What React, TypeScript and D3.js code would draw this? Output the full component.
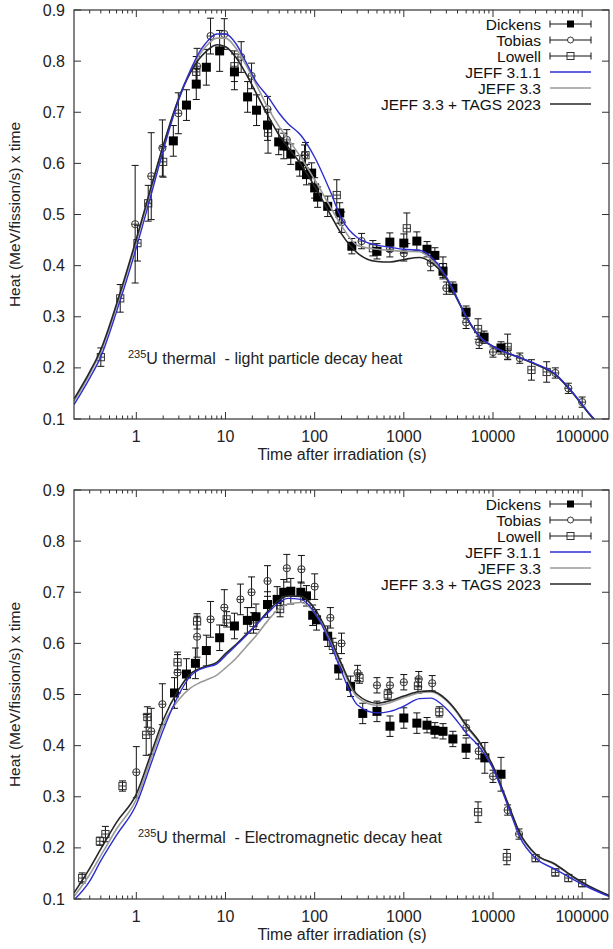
import React from 'react';
import * as d3 from 'd3';

// ---------- Model curves (common time grid, s) ----------
const curveT = [0.2, 0.3, 0.4, 0.6, 1, 1.5, 2, 3, 4, 5, 6, 8, 10, 13, 17, 22, 30, 40, 50, 70, 100, 150, 200, 300, 500, 700, 1000, 1500, 2000, 3000, 4000, 5000, 7000, 10000, 15000, 20000, 30000, 50000, 80000, 120000, 200000];

// Light particle decay heat
const lpJeff311 = [0.128, 0.18, 0.222, 0.31, 0.435, 0.545, 0.625, 0.725, 0.78, 0.815, 0.835, 0.853, 0.853, 0.835, 0.798, 0.76, 0.73, 0.698, 0.678, 0.655, 0.612, 0.545, 0.492, 0.455, 0.44, 0.436, 0.432, 0.43, 0.418, 0.378, 0.335, 0.3, 0.262, 0.242, 0.228, 0.22, 0.208, 0.188, 0.15, 0.111, 0.07];
const lpJeff33 = [0.135, 0.188, 0.232, 0.32, 0.447, 0.556, 0.632, 0.728, 0.78, 0.81, 0.828, 0.845, 0.845, 0.826, 0.792, 0.755, 0.708, 0.672, 0.648, 0.612, 0.568, 0.515, 0.478, 0.44, 0.432, 0.43, 0.428, 0.427, 0.413, 0.376, 0.334, 0.3, 0.262, 0.242, 0.228, 0.22, 0.207, 0.187, 0.149, 0.11, 0.07];
const lpTags = [0.139, 0.192, 0.236, 0.325, 0.452, 0.56, 0.635, 0.728, 0.776, 0.803, 0.818, 0.832, 0.828, 0.808, 0.775, 0.738, 0.693, 0.655, 0.632, 0.598, 0.555, 0.5, 0.462, 0.425, 0.408, 0.407, 0.412, 0.416, 0.407, 0.375, 0.333, 0.3, 0.262, 0.242, 0.228, 0.22, 0.207, 0.187, 0.149, 0.11, 0.07];

// Electromagnetic decay heat
const emJeff311 = [0.098, 0.135, 0.175, 0.225, 0.285, 0.37, 0.43, 0.5, 0.535, 0.548, 0.553, 0.56, 0.576, 0.595, 0.615, 0.636, 0.66, 0.68, 0.688, 0.686, 0.66, 0.6, 0.545, 0.48, 0.464, 0.467, 0.477, 0.492, 0.493, 0.472, 0.447, 0.425, 0.398, 0.355, 0.278, 0.221, 0.18, 0.158, 0.138, 0.122, 0.105];
const emJeff33 = [0.105, 0.148, 0.185, 0.237, 0.295, 0.38, 0.44, 0.49, 0.512, 0.522, 0.528, 0.538, 0.552, 0.57, 0.593, 0.615, 0.645, 0.668, 0.677, 0.68, 0.66, 0.605, 0.555, 0.495, 0.479, 0.484, 0.494, 0.503, 0.505, 0.488, 0.463, 0.438, 0.406, 0.358, 0.282, 0.228, 0.187, 0.167, 0.142, 0.124, 0.106];
const emTags = [0.112, 0.16, 0.198, 0.25, 0.305, 0.39, 0.45, 0.51, 0.54, 0.55, 0.555, 0.563, 0.58, 0.597, 0.617, 0.636, 0.663, 0.685, 0.693, 0.692, 0.668, 0.61, 0.56, 0.5, 0.483, 0.488, 0.497, 0.506, 0.507, 0.49, 0.465, 0.44, 0.408, 0.36, 0.283, 0.229, 0.188, 0.168, 0.143, 0.125, 0.107];

// ---------- Measurements: light particle ----------
const lpDickensT = [2.6, 3.65, 4.7, 6.1, 8.6, 12.6, 17.7, 22.3, 29.6, 39.5, 45, 54, 68, 81, 92.5, 100, 108, 140, 191, 261, 500, 697, 1000, 1400, 1820, 2230, 2750, 3550, 4990, 7940, 12300];
const lpDickensV = [0.644, 0.714, 0.755, 0.788, 0.82, 0.779, 0.73, 0.704, 0.675, 0.642, 0.634, 0.618, 0.595, 0.578, 0.581, 0.552, 0.534, 0.516, 0.503, 0.438, 0.428, 0.446, 0.444, 0.448, 0.432, 0.42, 0.389, 0.356, 0.309, 0.26, 0.239];
const lpDickensE = [0.03, 0.03, 0.03, 0.035, 0.04, 0.035, 0.03, 0.03, 0.03, 0.025, 0.025, 0.02, 0.02, 0.02, 0.02, 0.02, 0.02, 0.02, 0.02, 0.015, 0.015, 0.018, 0.018, 0.018, 0.015, 0.015, 0.015, 0.012, 0.012, 0.012, 0.012];

const lpTobiasT = [0.97, 1.47, 1.96, 2.96, 4.8, 6.8, 9.7, 15, 19.6, 29.6, 48.7, 77, 201, 336, 697, 1000, 2000, 3000, 5000, 7000, 10000, 14600, 20000, 50000, 70000, 100000];
const lpTobiasV = [0.481, 0.575, 0.63, 0.698, 0.79, 0.849, 0.853, 0.808, 0.771, 0.706, 0.646, 0.616, 0.485, 0.448, 0.432, 0.424, 0.405, 0.356, 0.289, 0.25, 0.231, 0.227, 0.219, 0.19, 0.16, 0.133];
const lpTobiasE = [0.115, 0.085, 0.055, 0.04, 0.035, 0.035, 0.03, 0.03, 0.025, 0.025, 0.02, 0.02, 0.02, 0.015, 0.015, 0.015, 0.015, 0.012, 0.012, 0.012, 0.01, 0.01, 0.01, 0.01, 0.01, 0.01];

const lpLowellT = [0.4, 0.66, 1.03, 1.36, 2.0, 4.7, 12.6, 30, 79, 177, 450, 1080, 2750, 6800, 14600, 27000, 40000];
const lpLowellV = [0.221, 0.336, 0.444, 0.522, 0.603, 0.779, 0.79, 0.66, 0.616, 0.538, 0.434, 0.473, 0.397, 0.276, 0.241, 0.196, 0.192];
const lpLowellE = [0.018, 0.027, 0.035, 0.035, 0.03, 0.03, 0.03, 0.04, 0.025, 0.03, 0.015, 0.03, 0.02, 0.02, 0.025, 0.02, 0.02];

// ---------- Measurements: electromagnetic ----------
const emDickensT = [2.68, 3.65, 4.6, 6.1, 8.6, 12.6, 17.6, 22, 29.6, 38, 45, 54, 70, 81, 95, 105, 140, 186, 253, 346, 500, 700, 1000, 1400, 1820, 2230, 2750, 3550, 4990, 8100, 12300];
const emDickensV = [0.503, 0.54, 0.561, 0.586, 0.611, 0.634, 0.645, 0.652, 0.676, 0.686, 0.7, 0.702, 0.7, 0.693, 0.655, 0.646, 0.614, 0.55, 0.516, 0.463, 0.467, 0.438, 0.454, 0.444, 0.44, 0.43, 0.428, 0.413, 0.395, 0.376, 0.344];
const emDickensE = [0.03, 0.03, 0.03, 0.03, 0.025, 0.025, 0.025, 0.025, 0.025, 0.025, 0.025, 0.025, 0.02, 0.02, 0.02, 0.02, 0.02, 0.02, 0.02, 0.02, 0.02, 0.02, 0.02, 0.02, 0.015, 0.015, 0.015, 0.015, 0.02, 0.03, 0.033];

const emTobiasT = [1.0, 1.47, 1.96, 2.9, 4.8, 6.8, 9.7, 14.7, 19.6, 29.6, 48.7, 71, 100, 150, 200, 303, 500, 700, 1000, 1470, 2080, 5000, 6900, 10000, 14600, 19600];
const emTobiasV = [0.348, 0.428, 0.481, 0.543, 0.613, 0.647, 0.67, 0.686, 0.7, 0.722, 0.747, 0.745, 0.711, 0.65, 0.6, 0.542, 0.518, 0.518, 0.524, 0.53, 0.522, 0.435, 0.389, 0.34, 0.274, 0.227];
const emTobiasE = [0.05, 0.045, 0.04, 0.04, 0.04, 0.035, 0.035, 0.03, 0.03, 0.03, 0.027, 0.027, 0.025, 0.02, 0.02, 0.015, 0.015, 0.015, 0.015, 0.015, 0.015, 0.015, 0.015, 0.012, 0.01, 0.01];

const emLowellT = [0.247, 0.39, 0.45, 0.7, 1.29, 1.33, 2.9, 4.8, 10.3, 20.6, 41, 160, 318, 660, 1440, 2500, 6800, 14300, 30000, 50000, 70000, 100000];
const emLowellV = [0.141, 0.213, 0.227, 0.321, 0.421, 0.456, 0.563, 0.643, 0.647, 0.64, 0.667, 0.595, 0.532, 0.5, 0.517, 0.466, 0.27, 0.182, 0.18, 0.152, 0.141, 0.131];
const emLowellE = [0.01, 0.008, 0.015, 0.01, 0.04, 0.02, 0.015, 0.015, 0.015, 0.02, 0.015, 0.015, 0.01, 0.01, 0.015, 0.01, 0.02, 0.015, 0.007, 0.007, 0.007, 0.007];

// ---------- Axes / labels ----------
const xMajorTicks = [1, 10, 100, 1000, 10000, 100000];
const xTickLabels = ['1', '10', '100', '1000', '10000', '100000'];
const yTicks = [0.1, 0.2, 0.3, 0.4, 0.5, 0.6, 0.7, 0.8, 0.9];
const legendLabels = ['Dickens', 'Tobias', 'Lowell', 'JEFF 3.1.1', 'JEFF 3.3', 'JEFF 3.3 + TAGS 2023'];
const xTitle = 'Time after irradiation (s)';
const yTitle = 'Heat (MeV/fission/s) x time';

const BLUE = '#2d2dcf';
const GRAY = '#9a9a9a';
const DARK = '#262626';
const FONT = 'Liberation Sans, Arial, Helvetica, sans-serif';

type Series = { t: number[]; v: number[]; e: number[] };

function minorTicks(): number[] {
  const out: number[] = [];
  for (let d = 0.1; d <= 1e5; d *= 10) {
    for (let k = 2; k <= 9; k++) {
      const v = +(d * k).toPrecision(3);
      if (v > 0.2 && v < 2e5) out.push(v);
    }
  }
  return out;
}

function Marker({ kind, cx, cy }: { kind: string; cx: number; cy: number }) {
  if (kind === 'dickens') {
    return <rect x={cx - 4.5} y={cy - 4.5} width={9} height={9} fill="#000" />;
  }
  if (kind === 'tobias') {
    return (
      <g stroke="#333" strokeWidth={1} fill="none">
        <circle cx={cx} cy={cy} r={3.6} />
        <line x1={cx - 3.6} x2={cx + 3.6} y1={cy} y2={cy} />
      </g>
    );
  }
  return (
    <g stroke="#333" strokeWidth={1} fill="none">
      <rect x={cx - 3.6} y={cy - 3.6} width={7.2} height={7.2} />
      <line x1={cx - 3.6} x2={cx + 3.6} y1={cy} y2={cy} />
    </g>
  );
}

function Points({ s, kind, x, y }: { s: Series; kind: string; x: any; y: any }) {
  return (
    <g>
      {s.t.map((t, i) => {
        const cx = x(t);
        const cy = y(s.v[i]);
        const y1 = y(s.v[i] + s.e[i]);
        const y2 = y(s.v[i] - s.e[i]);
        return (
          <g key={i}>
            <g stroke="#111" strokeWidth={1}>
              <line x1={cx} x2={cx} y1={y1} y2={y2} />
              <line x1={cx - 3.5} x2={cx + 3.5} y1={y1} y2={y1} />
              <line x1={cx - 3.5} x2={cx + 3.5} y1={y2} y2={y2} />
            </g>
            <Marker kind={kind} cx={cx} cy={cy} />
          </g>
        );
      })}
    </g>
  );
}

function Panel({
  y0, id, jeff311, jeff33, tags, dickens, tobias, lowell, note,
}: {
  y0: number; id: string; jeff311: number[]; jeff33: number[]; tags: number[];
  dickens: Series; tobias: Series; lowell: Series; note: string;
}) {
  const L = 74, R = 609, T = y0, B = y0 + 409;
  const x = d3.scaleLog().domain([0.2, 2e5]).range([L, R]);
  const y = d3.scaleLinear().domain([0.1, 0.9]).range([B, T]);
  const line = d3
    .line<number>()
    .x((_, i) => x(curveT[i]))
    .y((d) => y(d))
    .curve(d3.curveMonotoneX);
  const minors = minorTicks();
  const legX = 541;
  const legY = y0 + 14;
  const legDy = 16;
  const sx1 = 550, sx2 = 591, smid = 570.5;

  return (
    <g fontFamily={FONT}>
      <defs>
        <clipPath id={id}>
          <rect x={L} y={T} width={R - L} height={B - T} />
        </clipPath>
      </defs>
      {/* frame ticks */}
      <g stroke="#333" strokeWidth={1}>
        {xMajorTicks.map((t) => (
          <g key={'M' + t}>
            <line x1={x(t)} x2={x(t)} y1={B} y2={B - 7} />
            <line x1={x(t)} x2={x(t)} y1={T} y2={T + 7} />
          </g>
        ))}
        {minors.map((t) => (
          <g key={'m' + t}>
            <line x1={x(t)} x2={x(t)} y1={B} y2={B - 3.5} />
            <line x1={x(t)} x2={x(t)} y1={T} y2={T + 3.5} />
          </g>
        ))}
        {yTicks.map((v) => (
          <g key={'y' + v}>
            <line x1={L} x2={L + 7} y1={y(v)} y2={y(v)} />
            <line x1={R} x2={R - 7} y1={y(v)} y2={y(v)} />
          </g>
        ))}
      </g>
      {/* tick labels */}
      <g fontSize={16} fill="#222">
        {xMajorTicks.map((t, i) => (
          <text key={'xl' + t} x={x(t)} y={B + 23} textAnchor="middle">
            {xTickLabels[i]}
          </text>
        ))}
        {yTicks.map((v) => (
          <text key={'yl' + v} x={L - 9} y={y(v) + 5.5} textAnchor="end">
            {v.toFixed(1)}
          </text>
        ))}
      </g>
      <text x={342} y={B + 41} textAnchor="middle" fontSize={16} fill="#222">
        {xTitle}
      </text>
      <text
        transform={`translate(20,${(T + B) / 2}) rotate(-90)`}
        textAnchor="middle"
        fontSize={15.5}
        fill="#222"
      >
        {yTitle}
      </text>
      {/* annotation */}
      <text x={note === 'lp' ? 128 : 138} y={note === 'lp' ? y0 + 354 : y0 + 353} fontSize={16} fill="#222" style={{ whiteSpace: 'pre' }}>
        <tspan fontSize={11} dy={-6}>235</tspan>
        <tspan dy={6}>{note === 'lp' ? 'U thermal  - light particle decay heat' : 'U thermal  - Electromagnetic decay heat'}</tspan>
      </text>
      {/* data points */}
      <g clipPath={`url(#${id})`}>
        <Points s={lowell} kind="lowell" x={x} y={y} />
        <Points s={tobias} kind="tobias" x={x} y={y} />
        <Points s={dickens} kind="dickens" x={x} y={y} />
        <path d={line(jeff33) || ''} fill="none" stroke={GRAY} strokeWidth={1.6} />
        <path d={line(tags) || ''} fill="none" stroke={DARK} strokeWidth={1.6} />
        <path d={line(jeff311) || ''} fill="none" stroke={BLUE} strokeWidth={1.4} />
      </g>
      <rect x={L} y={T} width={R - L} height={B - T} fill="none" stroke="#333" strokeWidth={1.2} />
      {/* legend */}
      <g fontSize={15.5} fill="#111">
        {legendLabels.map((lab, i) => (
          <text key={lab} x={legX} y={legY + i * legDy + 5.5} textAnchor="end">
            {lab}
          </text>
        ))}
        {['dickens', 'tobias', 'lowell'].map((k, i) => {
          const yy = legY + i * legDy;
          return (
            <g key={k}>
              <g stroke="#111" strokeWidth={1}>
                <line x1={sx1} x2={sx2} y1={yy} y2={yy} />
                <line x1={sx1} x2={sx1} y1={yy - 3.5} y2={yy + 3.5} />
                <line x1={sx2} x2={sx2} y1={yy - 3.5} y2={yy + 3.5} />
              </g>
              {k === 'dickens' ? (
                <rect x={smid - 3.5} y={yy - 3.5} width={7} height={7} fill="#000" />
              ) : k === 'tobias' ? (
                <circle cx={smid} cy={yy} r={3} fill="#fff" stroke="#333" />
              ) : (
                <g>
                  <rect x={smid - 3.5} y={yy - 3.5} width={7} height={7} fill="#fff" stroke="#333" />
                  <line x1={smid - 3.5} x2={smid + 3.5} y1={yy} y2={yy} stroke="#333" />
                </g>
              )}
            </g>
          );
        })}
        {[BLUE, GRAY, DARK].map((c, i) => {
          const yy = legY + (i + 3) * legDy;
          return <line key={c} x1={sx1} x2={sx2} y1={yy} y2={yy} stroke={c} strokeWidth={1.6} />;
        })}
      </g>
    </g>
  );
}

export default function App() {
  return (
    <svg
      width={613}
      height={949}
      viewBox="0 0 613 949"
      style={{ position: 'absolute', left: 0, top: 0, background: '#fff' }}
    >
      <rect x={0} y={0} width={613} height={949} fill="#fff" />
      <Panel
        y0={10}
        id="clipLp"
        jeff311={lpJeff311}
        jeff33={lpJeff33}
        tags={lpTags}
        dickens={{ t: lpDickensT, v: lpDickensV, e: lpDickensE }}
        tobias={{ t: lpTobiasT, v: lpTobiasV, e: lpTobiasE }}
        lowell={{ t: lpLowellT, v: lpLowellV, e: lpLowellE }}
        note="lp"
      />
      <Panel
        y0={490}
        id="clipEm"
        jeff311={emJeff311}
        jeff33={emJeff33}
        tags={emTags}
        dickens={{ t: emDickensT, v: emDickensV, e: emDickensE }}
        tobias={{ t: emTobiasT, v: emTobiasV, e: emTobiasE }}
        lowell={{ t: emLowellT, v: emLowellV, e: emLowellE }}
        note="em"
      />
    </svg>
  );
}
